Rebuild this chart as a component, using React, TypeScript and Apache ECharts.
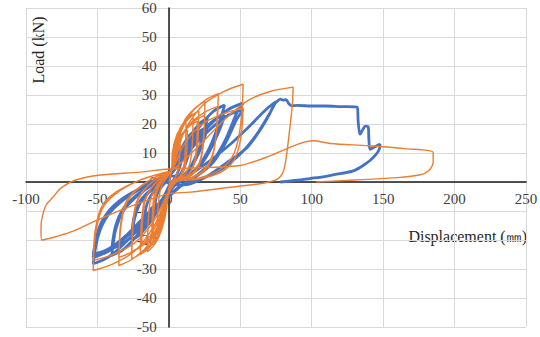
import React, { useEffect, useRef } from "react";
import * as echarts from "echarts";

// Axis ticks
const xTicks = { min: -100, max: 250, step: 50 };
const yTicks = { min: -50, max: 60, step: 10 };
const xTitle = "Displacement (㎜)";
const yTitle = "Load (kN)";

// Blue specimen: displacement/load pairs, cycle by cycle
const blueCycle1 = [[0,0],[2.5,4.8],[5.5,8.6],[8,11],[10,12],[9.3,8.5],[7.5,5],[5.5,2.5],[3,0.5],[1,-0.6],[-2.5,-4],[-5.5,-7.2],[-8,-9.2],[-10,-10],[-9.3,-6.5],[-8,-4],[-6,-2.2],[-3.5,-0.7],[-1,0.5],[0,2]];
const blueCycle2 = [[4.5,7],[9.9,12.6],[14.4,16.1],[18,17.5],[16.5,14],[13.5,9],[10.5,4.8],[6.5,1.5],[1.8,-0.9],[-4.5,-6.4],[-9.9,-11.5],[-14.4,-14.7],[-18,-16],[-16.7,-10.4],[-14.4,-6.4],[-10.8,-3.5],[-6.3,-1.1],[-1.8,0.8],[0,2]];
const blueCycle3 = [[6.8,8.8],[14.9,15.8],[21.6,20.2],[27,22],[25,17.8],[21,11.5],[16,6],[10,2],[2.7,-1.1],[-6.5,-8],[-14.3,-14.4],[-20.8,-18.4],[-26,-20],[-24.2,-13],[-20.8,-8],[-15.6,-4.4],[-9.1,-1.4],[-2.6,1],[0,2]];
const blueCycle4 = [[6.8,7.6],[14.9,13.7],[21.6,17.5],[27,19],[25,15.3],[21,10],[16,5.3],[10,1.7],[2.7,-1],[-6.5,-7.2],[-14.3,-13],[-20.8,-16.6],[-26,-18],[-24.2,-11.7],[-20.8,-7.2],[-15.6,-4],[-9.1,-1.3],[-2.6,0.9],[0,2]];
const blueCycle5 = [[9.8,10.6],[21.5,19.1],[31.2,24.4],[39,26.5],[36,21.5],[30,13.5],[23,7],[14,2.2],[3.9,-1.3],[-10,-10.1],[-22,-18.2],[-32,-23.3],[-40,-25.3],[-37.2,-16.4],[-32,-10.1],[-24,-5.6],[-14,-1.8],[-4,1.3],[0,2]];
const blueCycle6 = [[9.8,9.2],[21.5,16.6],[31.2,21.2],[39,23],[36,18.6],[30,12],[23,6.3],[14,2],[3.9,-1.2],[-10,-9.2],[-22,-16.6],[-32,-21.2],[-40,-23],[-37.2,-15],[-32,-9.2],[-24,-5.1],[-14,-1.6],[-4,1.2],[0,2]];
const blueCycle7 = [[13,10.9],[28.6,19.6],[41.6,25],[52,27.2],[47.4,23.7],[40,15],[31,7.5],[20,2.5],[8,-1.5],[-13.3,-11.3],[-29.2,-20.3],[-42.4,-25.9],[-53,-28.2],[-49.3,-18.3],[-42.4,-11.3],[-31.8,-6.2],[-18.6,-2],[-5.3,1.4],[0,2]];
const blueCycle8 = [[13,10],[28.6,18],[41.6,23],[52,25],[47.4,21.5],[40,13.8],[31,6.8],[20,2.2],[8,-1.3],[-13.3,-10.4],[-29.2,-18.7],[-42.4,-23.9],[-53,-26],[-49.3,-16.9],[-42.4,-10.4],[-31.8,-5.7],[-18.6,-1.8],[-5.3,1.3],[0,2]];
const blueCycle9 = [[10,2],[25,6],[43,13],[58,20],[68,25],[75,27.7],[71,24],[63,17.5],[54.5,12],[45,7.5],[35.7,4],[22,1],[8,-1.5],[-13,-10],[-29,-18],[-42,-23],[-53,-25],[-49,-16],[-42,-10],[-31.8,-5.5],[-18.6,-1.8],[-5.3,1.3],[0,-0.5]];
const blueFinal = [[10,-1],[25,1.5],[43,7.5],[55,12],[64,18],[70,23],[73.5,26.5],[75.5,27.7],[78,28.6],[80,28.2],[82,28.4],[84,27],[86,26.3],[90,26.4],[100,26.2],[110,26.2],[120,26],[131.9,25.8],[132.5,21],[133.8,16.5],[136,18.3],[137.5,19.3],[139.6,19],[140,15],[140.8,11.3],[143,11.8],[145.5,12.5],[147.8,13],[147.5,11.5],[145,9.5],[141,7.5],[136,5.7],[130,4],[124,3.2],[117.5,2.7],[108,1.8],[98.8,1.2],[90,0.6],[78,0]];

// Orange specimen
const orangeCycle1 = [[0,0],[2,4],[2.5,9],[4,13.5],[6,16],[8,17],[7.8,11],[7,6],[5.5,2.5],[3,0.5],[0.5,-0.5],[-1.6,-9],[-3.6,-14],[-6,-16.7],[-8,-18],[-7.8,-11],[-7,-6],[-5.5,-2],[-3,0.5],[0,2.5],[2,4]];
const orangeCycle2 = [[2.4,10],[5.4,16],[9,19],[12,20.5],[11.6,12.5],[10.6,6],[8.4,2.5],[4.8,0.8],[1.2,0],[-2.2,-10.5],[-5,-16.4],[-8.3,-19.5],[-11,-21],[-10.7,-12.5],[-9.7,-6],[-7.7,-2.5],[-4.4,0.5],[-1,2.5],[2,4]];
const orangeCycle3 = [[2.6,9],[5.8,14],[9.8,16.7],[13,18],[12.6,11],[11.4,5.4],[9.1,2.3],[5.2,0.7],[1.3,0],[-2.4,-9.5],[-5.4,-14.8],[-9,-17.7],[-12,-19],[-11.6,-11.5],[-10.6,-5.5],[-8.4,-2.2],[-4.8,0.5],[-1.2,2.5],[2,4]];
const orangeCycle4 = [[3.4,11.8],[7.6,18.3],[12.8,21.9],[17,23.5],[16.5,14],[15,7],[11.9,3],[6.8,1],[1.7,0],[-3,-12],[-6.8,-18.7],[-11.3,-22.3],[-15,-24],[-14.5,-14.5],[-13.2,-7],[-10.5,-3],[-6,0.5],[-1.5,2.5],[2,4]];
const orangeCycle5 = [[4.2,12.3],[9.5,19.1],[15.8,22.8],[21,24.5],[20.4,14.7],[18.5,7.4],[14.7,3.2],[8.4,1],[2.1,0],[-4,-12.5],[-9,-19.5],[-15,-23.3],[-20,-25],[-19.4,-15],[-17.6,-7.5],[-14,-3.3],[-8,0.5],[-2,2.5],[2,4]];
const orangeCycle6 = [[4,10.5],[9,16.4],[15,19.5],[20,21],[19.4,12.6],[17.6,6.3],[14,2.7],[8,0.8],[2,0],[-3.8,-11],[-8.6,-17.2],[-14.3,-20.5],[-19,-22],[-18.4,-13.2],[-16.7,-6.6],[-13.3,-2.9],[-7.6,0.5],[-1.9,2.5],[2,4]];
const orangeCycle7 = [[5,13.8],[11.4,21.6],[19,25.8],[25.3,27.7],[24.5,16.6],[22.3,8.3],[17.7,3.6],[10.1,1.1],[2.5,0],[-5.2,-13.2],[-11.7,-20.7],[-19.5,-24.6],[-26,-26.5],[-25.2,-15.9],[-22.9,-8],[-18.2,-3.4],[-10.4,0.5],[-2.6,2.8],[2,4]];
const orangeCycle8 = [[5,11.5],[11.3,18],[18.8,21.4],[25,23],[24.3,13.8],[22,6.9],[17.5,3],[10,0.9],[2.5,0],[-5.2,-12],[-11.7,-18.7],[-19.5,-22.3],[-26,-24],[-25.2,-14.4],[-22.9,-7.2],[-18.2,-3.1],[-10.4,0.5],[-2.6,2.8],[2,4]];
const orangeCycle9 = [[6.9,15.3],[15.6,23.8],[26,28.4],[34.6,30.5],[33.6,18.3],[30.4,9.2],[24.2,4],[13.8,1.2],[3.5,0],[-7,-14.4],[-15.8,-22.5],[-26.3,-26.8],[-35,-28.8],[-34,-17.3],[-30.8,-8.6],[-24.5,-3.7],[-14,0.5],[-3.5,3],[2,4]];
const orangeCycle10 = [[6.8,13],[15.3,20.3],[25.5,24.2],[34,26],[33,15.6],[29.9,7.8],[23.8,3.4],[13.6,1],[3.4,0],[-7,-13],[-15.8,-20.3],[-26.3,-24.2],[-35,-26],[-34,-15.6],[-30.8,-7.8],[-24.5,-3.4],[-14,0.5],[-3.5,3],[2,4]];
const orangeCycle11 = [[10.4,16.9],[23.4,26.3],[39,31.3],[52,33.7],[50.4,20.2],[45.8,10.1],[36.4,4.4],[20.8,1.3],[5.2,0],[-10.6,-15.3],[-23.9,-23.8],[-39.8,-28.4],[-53,-30.5],[-51.4,-18.3],[-46.6,-9.2],[-37.1,-4],[-21.2,0.5],[-5.3,3],[2,4]];
const orangeCycle12 = [[10.4,12.8],[23.4,20],[39,23.7],[52,25.5],[50.4,15.3],[45.8,7.7],[36.4,3.3],[20.8,1],[5.2,0],[-10.6,-13.5],[-23.9,-21],[-39.8,-25.1],[-53,-27],[-51.4,-16.2],[-46.6,-8.1],[-37.1,-3.5],[-21.2,0.5],[-5.3,3],[2,4]];
const orangeCycle13 = [[20,12],[40,22],[55,28],[70.8,31.2],[87,32.7],[86.5,27],[85,20],[83.6,14],[82,8],[80,3.5],[76,1],[65,-0.5],[40,-2],[15,-3.5],[0,-4],[-10,-5.5],[-30,-9],[-50.5,-13.2],[-69,-17.3],[-89,-20],[-89.5,-17],[-89,-13],[-86,-8],[-81,-5.2],[-76,-2.3],[-65.7,0.6],[-48,2.4],[-20,3.4],[0,4.5]];
const orangeFinal = [[25,5],[50,5.7],[70.8,9],[90,13],[101,14.2],[113,13.3],[140,12.5],[165,11.5],[185,10.2],[185,7],[182,4],[176,2.5],[160,1.5],[130,0.7],[103,0]];

const blueSeries = [blueCycle1, blueCycle2, blueCycle3, blueCycle4, blueCycle5, blueCycle6, blueCycle7, blueCycle8, blueCycle9, blueFinal].flat();
const orangeSeries = [orangeCycle1, orangeCycle2, orangeCycle3, orangeCycle4, orangeCycle5, orangeCycle6, orangeCycle7, orangeCycle8, orangeCycle9, orangeCycle10, orangeCycle11, orangeCycle12, orangeCycle13, orangeFinal].flat();

const FONT = "Liberation Serif, Times New Roman, serif";
const W = 540, H = 337;
const GRID = { left: 26, right: 14, top: 8, bottom: 10 };
const plotW = W - GRID.left - GRID.right;
const plotH = H - GRID.top - GRID.bottom;
// shift axes so that they sit at the zero of the other axis
const yAxisOffset = -((0 - xTicks.min) / (xTicks.max - xTicks.min)) * plotW;
const xAxisOffset = -((0 - yTicks.min) / (yTicks.max - yTicks.min)) * plotH;

export default function App() {
  const ref = useRef<HTMLDivElement>(null);
  useEffect(() => {
    if (!ref.current) return;
    const chart = echarts.init(ref.current, undefined, { renderer: "svg" });
    chart.setOption({
      animation: false,
      backgroundColor: "#ffffff",
      grid: { ...GRID, containLabel: false, outerBoundsMode: "none" },
      xAxis: {
        type: "value",
        position: "bottom",
        offset: xAxisOffset,
        min: xTicks.min,
        max: xTicks.max,
        interval: xTicks.step,
        axisLine: { onZero: false, lineStyle: { color: "#1a1a1a", width: 1.5 } },
        axisTick: { show: false },
        axisLabel: { color: "#404040", fontFamily: FONT, fontSize: 15, margin: 9, showMinLabel: true, showMaxLabel: true },
        splitLine: { show: true, lineStyle: { color: "#d9d9d9", width: 1 } },
      },
      yAxis: {
        type: "value",
        position: "left",
        offset: yAxisOffset,
        min: yTicks.min,
        max: yTicks.max,
        interval: yTicks.step,
        axisLine: { onZero: false, lineStyle: { color: "#1a1a1a", width: 1.5 } },
        axisTick: { show: false },
        axisLabel: { color: "#404040", fontFamily: FONT, fontSize: 15, margin: 12, showMinLabel: true, showMaxLabel: true },
        splitLine: { show: true, lineStyle: { color: "#d9d9d9", width: 1 } },
      },
      graphic: [
        {
          type: "text",
          x: 38,
          y: 50,
          rotation: Math.PI / 2,
          style: { text: yTitle, fontFamily: FONT, fontSize: 16, fill: "#262626", align: "center", verticalAlign: "middle" },
        },
        {
          type: "text",
          x: 527,
          y: 236,
          style: { text: xTitle, fontFamily: FONT, fontSize: 16, fill: "#262626", align: "right", verticalAlign: "middle" },
        },
      ],
      series: [
        {
          type: "line",
          data: blueSeries,
          showSymbol: false,
          symbol: "none",
          smooth: 0.3,
          lineStyle: { color: "#4472C4", width: 2.8 },
          z: 2,
        },
        {
          type: "line",
          data: orangeSeries,
          showSymbol: false,
          symbol: "none",
          smooth: 0.3,
          lineStyle: { color: "#ED7D31", width: 1.4 },
          z: 3,
        },
      ],
    });
    return () => chart.dispose();
  }, []);
  return <div ref={ref} style={{ position: "fixed", left: 0, top: 0, width: W, height: H }} />;
}
